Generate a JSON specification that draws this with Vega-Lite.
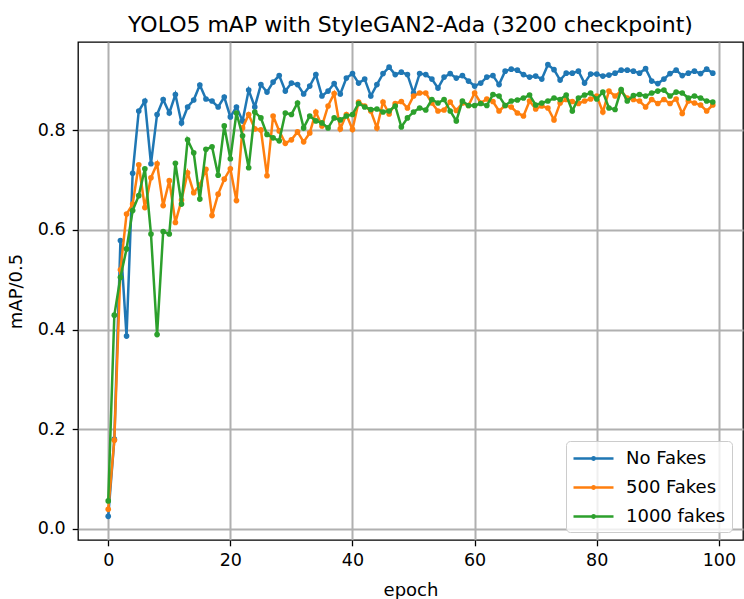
{
  "$schema": "https://vega.github.io/schema/vega-lite/v6.json",
  "width": 665,
  "height": 498,
  "autosize": {"type": "none"},
  "padding": {"left": 78, "top": 42, "right": 1, "bottom": 59},
  "background": "white",
  "title": {"text": "YOLO5 mAP with StyleGAN2-Ada (3200 checkpoint)", "font": "DejaVu Sans", "fontSize": 22, "fontWeight": "normal", "color": "black", "anchor": "middle", "frame": "group", "offset": 5},
  "config": {
    "view": {"stroke": "black", "strokeWidth": 1.3},
    "axis": {"labelFont": "DejaVu Sans", "labelFontSize": 17.5, "labelColor": "black", "titleFont": "DejaVu Sans", "titleFontSize": 18, "titleFontWeight": "normal", "titleColor": "black", "tickColor": "black", "tickSize": 5.8, "tickWidth": 1.3, "domain": false, "gridColor": "#b0b0b0", "gridWidth": 2, "labelPadding": 6},
    "legend": {"labelFont": "DejaVu Sans", "labelFontSize": 18, "labelColor": "black"}
  },
  "data": {"values": [
    {"epoch":0,"series":"No Fakes","map":0.025},{"epoch":1,"series":"No Fakes","map":0.18},{"epoch":2,"series":"No Fakes","map":0.579},{"epoch":3,"series":"No Fakes","map":0.387},{"epoch":4,"series":"No Fakes","map":0.714},{"epoch":5,"series":"No Fakes","map":0.839},{"epoch":6,"series":"No Fakes","map":0.859},{"epoch":7,"series":"No Fakes","map":0.733},{"epoch":8,"series":"No Fakes","map":0.832},{"epoch":9,"series":"No Fakes","map":0.862},
    {"epoch":10,"series":"No Fakes","map":0.835},{"epoch":11,"series":"No Fakes","map":0.872},{"epoch":12,"series":"No Fakes","map":0.815},{"epoch":13,"series":"No Fakes","map":0.847},{"epoch":14,"series":"No Fakes","map":0.861},{"epoch":15,"series":"No Fakes","map":0.891},{"epoch":16,"series":"No Fakes","map":0.863},{"epoch":17,"series":"No Fakes","map":0.859},{"epoch":18,"series":"No Fakes","map":0.847},{"epoch":19,"series":"No Fakes","map":0.867},
    {"epoch":20,"series":"No Fakes","map":0.827},{"epoch":21,"series":"No Fakes","map":0.847},{"epoch":22,"series":"No Fakes","map":0.819},{"epoch":23,"series":"No Fakes","map":0.881},{"epoch":24,"series":"No Fakes","map":0.847},{"epoch":25,"series":"No Fakes","map":0.892},{"epoch":26,"series":"No Fakes","map":0.877},{"epoch":27,"series":"No Fakes","map":0.897},{"epoch":28,"series":"No Fakes","map":0.91},{"epoch":29,"series":"No Fakes","map":0.879},
    {"epoch":30,"series":"No Fakes","map":0.895},{"epoch":31,"series":"No Fakes","map":0.892},{"epoch":32,"series":"No Fakes","map":0.873},{"epoch":33,"series":"No Fakes","map":0.889},{"epoch":34,"series":"No Fakes","map":0.912},{"epoch":35,"series":"No Fakes","map":0.869},{"epoch":36,"series":"No Fakes","map":0.879},{"epoch":37,"series":"No Fakes","map":0.894},{"epoch":38,"series":"No Fakes","map":0.873},{"epoch":39,"series":"No Fakes","map":0.905},
    {"epoch":40,"series":"No Fakes","map":0.914},{"epoch":41,"series":"No Fakes","map":0.895},{"epoch":42,"series":"No Fakes","map":0.903},{"epoch":43,"series":"No Fakes","map":0.869},{"epoch":44,"series":"No Fakes","map":0.892},{"epoch":45,"series":"No Fakes","map":0.914},{"epoch":46,"series":"No Fakes","map":0.927},{"epoch":47,"series":"No Fakes","map":0.912},{"epoch":48,"series":"No Fakes","map":0.917},{"epoch":49,"series":"No Fakes","map":0.912},
    {"epoch":50,"series":"No Fakes","map":0.875},{"epoch":51,"series":"No Fakes","map":0.914},{"epoch":52,"series":"No Fakes","map":0.912},{"epoch":53,"series":"No Fakes","map":0.903},{"epoch":54,"series":"No Fakes","map":0.885},{"epoch":55,"series":"No Fakes","map":0.907},{"epoch":56,"series":"No Fakes","map":0.914},{"epoch":57,"series":"No Fakes","map":0.905},{"epoch":58,"series":"No Fakes","map":0.91},{"epoch":59,"series":"No Fakes","map":0.899},
    {"epoch":60,"series":"No Fakes","map":0.889},{"epoch":61,"series":"No Fakes","map":0.895},{"epoch":62,"series":"No Fakes","map":0.907},{"epoch":63,"series":"No Fakes","map":0.91},{"epoch":64,"series":"No Fakes","map":0.892},{"epoch":65,"series":"No Fakes","map":0.919},{"epoch":66,"series":"No Fakes","map":0.923},{"epoch":67,"series":"No Fakes","map":0.921},{"epoch":68,"series":"No Fakes","map":0.912},{"epoch":69,"series":"No Fakes","map":0.907},
    {"epoch":70,"series":"No Fakes","map":0.909},{"epoch":71,"series":"No Fakes","map":0.903},{"epoch":72,"series":"No Fakes","map":0.932},{"epoch":73,"series":"No Fakes","map":0.922},{"epoch":74,"series":"No Fakes","map":0.901},{"epoch":75,"series":"No Fakes","map":0.915},{"epoch":76,"series":"No Fakes","map":0.915},{"epoch":77,"series":"No Fakes","map":0.919},{"epoch":78,"series":"No Fakes","map":0.895},{"epoch":79,"series":"No Fakes","map":0.913},
    {"epoch":80,"series":"No Fakes","map":0.913},{"epoch":81,"series":"No Fakes","map":0.909},{"epoch":82,"series":"No Fakes","map":0.911},{"epoch":83,"series":"No Fakes","map":0.915},{"epoch":84,"series":"No Fakes","map":0.921},{"epoch":85,"series":"No Fakes","map":0.921},{"epoch":86,"series":"No Fakes","map":0.919},{"epoch":87,"series":"No Fakes","map":0.915},{"epoch":88,"series":"No Fakes","map":0.924},{"epoch":89,"series":"No Fakes","map":0.899},
    {"epoch":90,"series":"No Fakes","map":0.894},{"epoch":91,"series":"No Fakes","map":0.903},{"epoch":92,"series":"No Fakes","map":0.914},{"epoch":93,"series":"No Fakes","map":0.921},{"epoch":94,"series":"No Fakes","map":0.91},{"epoch":95,"series":"No Fakes","map":0.915},{"epoch":96,"series":"No Fakes","map":0.919},{"epoch":97,"series":"No Fakes","map":0.914},{"epoch":98,"series":"No Fakes","map":0.923},{"epoch":99,"series":"No Fakes","map":0.915},

    {"epoch":0,"series":"500 Fakes","map":0.039},{"epoch":1,"series":"500 Fakes","map":0.178},{"epoch":2,"series":"500 Fakes","map":0.52},{"epoch":3,"series":"500 Fakes","map":0.632},{"epoch":4,"series":"500 Fakes","map":0.652},{"epoch":5,"series":"500 Fakes","map":0.731},{"epoch":6,"series":"500 Fakes","map":0.645},{"epoch":7,"series":"500 Fakes","map":0.705},{"epoch":8,"series":"500 Fakes","map":0.733},{"epoch":9,"series":"500 Fakes","map":0.649},
    {"epoch":10,"series":"500 Fakes","map":0.699},{"epoch":11,"series":"500 Fakes","map":0.615},{"epoch":12,"series":"500 Fakes","map":0.66},{"epoch":13,"series":"500 Fakes","map":0.715},{"epoch":14,"series":"500 Fakes","map":0.675},{"epoch":15,"series":"500 Fakes","map":0.69},{"epoch":16,"series":"500 Fakes","map":0.722},{"epoch":17,"series":"500 Fakes","map":0.629},{"epoch":18,"series":"500 Fakes","map":0.672},{"epoch":19,"series":"500 Fakes","map":0.702},
    {"epoch":20,"series":"500 Fakes","map":0.723},{"epoch":21,"series":"500 Fakes","map":0.659},{"epoch":22,"series":"500 Fakes","map":0.805},{"epoch":23,"series":"500 Fakes","map":0.832},{"epoch":24,"series":"500 Fakes","map":0.803},{"epoch":25,"series":"500 Fakes","map":0.801},{"epoch":26,"series":"500 Fakes","map":0.709},{"epoch":27,"series":"500 Fakes","map":0.829},{"epoch":28,"series":"500 Fakes","map":0.799},{"epoch":29,"series":"500 Fakes","map":0.774},
    {"epoch":30,"series":"500 Fakes","map":0.781},{"epoch":31,"series":"500 Fakes","map":0.797},{"epoch":32,"series":"500 Fakes","map":0.777},{"epoch":33,"series":"500 Fakes","map":0.795},{"epoch":34,"series":"500 Fakes","map":0.837},{"epoch":35,"series":"500 Fakes","map":0.809},{"epoch":36,"series":"500 Fakes","map":0.849},{"epoch":37,"series":"500 Fakes","map":0.874},{"epoch":38,"series":"500 Fakes","map":0.803},{"epoch":39,"series":"500 Fakes","map":0.832},
    {"epoch":40,"series":"500 Fakes","map":0.802},{"epoch":41,"series":"500 Fakes","map":0.857},{"epoch":42,"series":"500 Fakes","map":0.849},{"epoch":43,"series":"500 Fakes","map":0.839},{"epoch":44,"series":"500 Fakes","map":0.805},{"epoch":45,"series":"500 Fakes","map":0.857},{"epoch":46,"series":"500 Fakes","map":0.833},{"epoch":47,"series":"500 Fakes","map":0.854},{"epoch":48,"series":"500 Fakes","map":0.858},{"epoch":49,"series":"500 Fakes","map":0.845},
    {"epoch":50,"series":"500 Fakes","map":0.869},{"epoch":51,"series":"500 Fakes","map":0.875},{"epoch":52,"series":"500 Fakes","map":0.875},{"epoch":53,"series":"500 Fakes","map":0.855},{"epoch":54,"series":"500 Fakes","map":0.839},{"epoch":55,"series":"500 Fakes","map":0.841},{"epoch":56,"series":"500 Fakes","map":0.857},{"epoch":57,"series":"500 Fakes","map":0.84},{"epoch":58,"series":"500 Fakes","map":0.855},{"epoch":59,"series":"500 Fakes","map":0.85},
    {"epoch":60,"series":"500 Fakes","map":0.875},{"epoch":61,"series":"500 Fakes","map":0.855},{"epoch":62,"series":"500 Fakes","map":0.863},{"epoch":63,"series":"500 Fakes","map":0.858},{"epoch":64,"series":"500 Fakes","map":0.839},{"epoch":65,"series":"500 Fakes","map":0.85},{"epoch":66,"series":"500 Fakes","map":0.847},{"epoch":67,"series":"500 Fakes","map":0.835},{"epoch":68,"series":"500 Fakes","map":0.829},{"epoch":69,"series":"500 Fakes","map":0.859},
    {"epoch":70,"series":"500 Fakes","map":0.843},{"epoch":71,"series":"500 Fakes","map":0.849},{"epoch":72,"series":"500 Fakes","map":0.845},{"epoch":73,"series":"500 Fakes","map":0.821},{"epoch":74,"series":"500 Fakes","map":0.855},{"epoch":75,"series":"500 Fakes","map":0.862},{"epoch":76,"series":"500 Fakes","map":0.858},{"epoch":77,"series":"500 Fakes","map":0.854},{"epoch":78,"series":"500 Fakes","map":0.859},{"epoch":79,"series":"500 Fakes","map":0.863},
    {"epoch":80,"series":"500 Fakes","map":0.869},{"epoch":81,"series":"500 Fakes","map":0.837},{"epoch":82,"series":"500 Fakes","map":0.879},{"epoch":83,"series":"500 Fakes","map":0.869},{"epoch":84,"series":"500 Fakes","map":0.879},{"epoch":85,"series":"500 Fakes","map":0.865},{"epoch":86,"series":"500 Fakes","map":0.862},{"epoch":87,"series":"500 Fakes","map":0.859},{"epoch":88,"series":"500 Fakes","map":0.847},{"epoch":89,"series":"500 Fakes","map":0.862},
    {"epoch":90,"series":"500 Fakes","map":0.854},{"epoch":91,"series":"500 Fakes","map":0.862},{"epoch":92,"series":"500 Fakes","map":0.854},{"epoch":93,"series":"500 Fakes","map":0.863},{"epoch":94,"series":"500 Fakes","map":0.834},{"epoch":95,"series":"500 Fakes","map":0.859},{"epoch":96,"series":"500 Fakes","map":0.855},{"epoch":97,"series":"500 Fakes","map":0.851},{"epoch":98,"series":"500 Fakes","map":0.839},{"epoch":99,"series":"500 Fakes","map":0.851},

    {"epoch":0,"series":"1000 fakes","map":0.056},{"epoch":1,"series":"1000 fakes","map":0.429},{"epoch":2,"series":"1000 fakes","map":0.505},{"epoch":3,"series":"1000 fakes","map":0.562},{"epoch":4,"series":"1000 fakes","map":0.639},{"epoch":5,"series":"1000 fakes","map":0.669},{"epoch":6,"series":"1000 fakes","map":0.723},{"epoch":7,"series":"1000 fakes","map":0.592},{"epoch":8,"series":"1000 fakes","map":0.39},{"epoch":9,"series":"1000 fakes","map":0.597},
    {"epoch":10,"series":"1000 fakes","map":0.592},{"epoch":11,"series":"1000 fakes","map":0.734},{"epoch":12,"series":"1000 fakes","map":0.652},{"epoch":13,"series":"1000 fakes","map":0.781},{"epoch":14,"series":"1000 fakes","map":0.755},{"epoch":15,"series":"1000 fakes","map":0.662},{"epoch":16,"series":"1000 fakes","map":0.762},{"epoch":17,"series":"1000 fakes","map":0.767},{"epoch":18,"series":"1000 fakes","map":0.71},{"epoch":19,"series":"1000 fakes","map":0.809},
    {"epoch":20,"series":"1000 fakes","map":0.743},{"epoch":21,"series":"1000 fakes","map":0.835},{"epoch":22,"series":"1000 fakes","map":0.789},{"epoch":23,"series":"1000 fakes","map":0.725},{"epoch":24,"series":"1000 fakes","map":0.837},{"epoch":25,"series":"1000 fakes","map":0.825},{"epoch":26,"series":"1000 fakes","map":0.792},{"epoch":27,"series":"1000 fakes","map":0.785},{"epoch":28,"series":"1000 fakes","map":0.779},{"epoch":29,"series":"1000 fakes","map":0.835},
    {"epoch":30,"series":"1000 fakes","map":0.832},{"epoch":31,"series":"1000 fakes","map":0.855},{"epoch":32,"series":"1000 fakes","map":0.805},{"epoch":33,"series":"1000 fakes","map":0.829},{"epoch":34,"series":"1000 fakes","map":0.819},{"epoch":35,"series":"1000 fakes","map":0.815},{"epoch":36,"series":"1000 fakes","map":0.805},{"epoch":37,"series":"1000 fakes","map":0.825},{"epoch":38,"series":"1000 fakes","map":0.821},{"epoch":39,"series":"1000 fakes","map":0.829},
    {"epoch":40,"series":"1000 fakes","map":0.832},{"epoch":41,"series":"1000 fakes","map":0.854},{"epoch":42,"series":"1000 fakes","map":0.847},{"epoch":43,"series":"1000 fakes","map":0.842},{"epoch":44,"series":"1000 fakes","map":0.843},{"epoch":45,"series":"1000 fakes","map":0.837},{"epoch":46,"series":"1000 fakes","map":0.839},{"epoch":47,"series":"1000 fakes","map":0.849},{"epoch":48,"series":"1000 fakes","map":0.807},{"epoch":49,"series":"1000 fakes","map":0.825},
    {"epoch":50,"series":"1000 fakes","map":0.837},{"epoch":51,"series":"1000 fakes","map":0.845},{"epoch":52,"series":"1000 fakes","map":0.841},{"epoch":53,"series":"1000 fakes","map":0.862},{"epoch":54,"series":"1000 fakes","map":0.855},{"epoch":55,"series":"1000 fakes","map":0.862},{"epoch":56,"series":"1000 fakes","map":0.839},{"epoch":57,"series":"1000 fakes","map":0.819},{"epoch":58,"series":"1000 fakes","map":0.859},{"epoch":59,"series":"1000 fakes","map":0.85},
    {"epoch":60,"series":"1000 fakes","map":0.85},{"epoch":61,"series":"1000 fakes","map":0.854},{"epoch":62,"series":"1000 fakes","map":0.85},{"epoch":63,"series":"1000 fakes","map":0.872},{"epoch":64,"series":"1000 fakes","map":0.869},{"epoch":65,"series":"1000 fakes","map":0.85},{"epoch":66,"series":"1000 fakes","map":0.859},{"epoch":67,"series":"1000 fakes","map":0.861},{"epoch":68,"series":"1000 fakes","map":0.865},{"epoch":69,"series":"1000 fakes","map":0.871},
    {"epoch":70,"series":"1000 fakes","map":0.851},{"epoch":71,"series":"1000 fakes","map":0.855},{"epoch":72,"series":"1000 fakes","map":0.859},{"epoch":73,"series":"1000 fakes","map":0.865},{"epoch":74,"series":"1000 fakes","map":0.862},{"epoch":75,"series":"1000 fakes","map":0.871},{"epoch":76,"series":"1000 fakes","map":0.839},{"epoch":77,"series":"1000 fakes","map":0.865},{"epoch":78,"series":"1000 fakes","map":0.871},{"epoch":79,"series":"1000 fakes","map":0.875},
    {"epoch":80,"series":"1000 fakes","map":0.863},{"epoch":81,"series":"1000 fakes","map":0.877},{"epoch":82,"series":"1000 fakes","map":0.845},{"epoch":83,"series":"1000 fakes","map":0.842},{"epoch":84,"series":"1000 fakes","map":0.882},{"epoch":85,"series":"1000 fakes","map":0.859},{"epoch":86,"series":"1000 fakes","map":0.87},{"epoch":87,"series":"1000 fakes","map":0.872},{"epoch":88,"series":"1000 fakes","map":0.869},{"epoch":89,"series":"1000 fakes","map":0.875},
    {"epoch":90,"series":"1000 fakes","map":0.879},{"epoch":91,"series":"1000 fakes","map":0.881},{"epoch":92,"series":"1000 fakes","map":0.869},{"epoch":93,"series":"1000 fakes","map":0.877},{"epoch":94,"series":"1000 fakes","map":0.875},{"epoch":95,"series":"1000 fakes","map":0.865},{"epoch":96,"series":"1000 fakes","map":0.869},{"epoch":97,"series":"1000 fakes","map":0.865},{"epoch":98,"series":"1000 fakes","map":0.859},{"epoch":99,"series":"1000 fakes","map":0.857}
  ]},
  "encoding": {
    "x": {"field": "epoch", "type": "quantitative", "scale": {"domain": [-4.95, 103.95], "nice": false, "zero": false}, "axis": {"values": [0, 20, 40, 60, 80, 100], "title": "epoch", "titlePadding": 12}},
    "y": {"field": "map", "type": "quantitative", "scale": {"domain": [-0.0225, 0.9775], "nice": false, "zero": false}, "axis": {"values": [0, 0.2, 0.4, 0.6, 0.8], "format": ".1f", "title": "mAP/0.5", "titlePadding": 12, "labelPadding": 7}},
    "color": {"field": "series", "type": "nominal", "scale": {"domain": ["No Fakes", "500 Fakes", "1000 fakes"], "range": ["#1f77b4", "#ff7f0e", "#2ca02c"]},
      "legend": {"title": null, "orient": "none", "legendX": 488, "legendY": 399, "padding": 6, "fillColor": "rgba(255,255,255,0.8)", "strokeColor": "#cccccc", "cornerRadius": 4, "labelFontSize": 18, "labelOffset": 31, "rowPadding": 8, "symbolType": "M-1,0H3M0.88,0A0.12,0.12,0,1,1,1.12,0A0.12,0.12,0,1,1,0.88,0", "symbolSize": 400, "symbolStrokeWidth": 2.5, "labelLimit": 300}}
  },
  "layer": [
    {"transform": [{"filter": "datum.series === 'No Fakes'"}], "mark": {"type": "line", "strokeWidth": 2.5, "point": {"filled": true, "size": 32}}},
    {"transform": [{"filter": "datum.series === '500 Fakes'"}], "mark": {"type": "line", "strokeWidth": 2.5, "point": {"filled": true, "size": 32}}},
    {"transform": [{"filter": "datum.series === '1000 fakes'"}], "mark": {"type": "line", "strokeWidth": 2.5, "point": {"filled": true, "size": 32}}}
  ]
}
